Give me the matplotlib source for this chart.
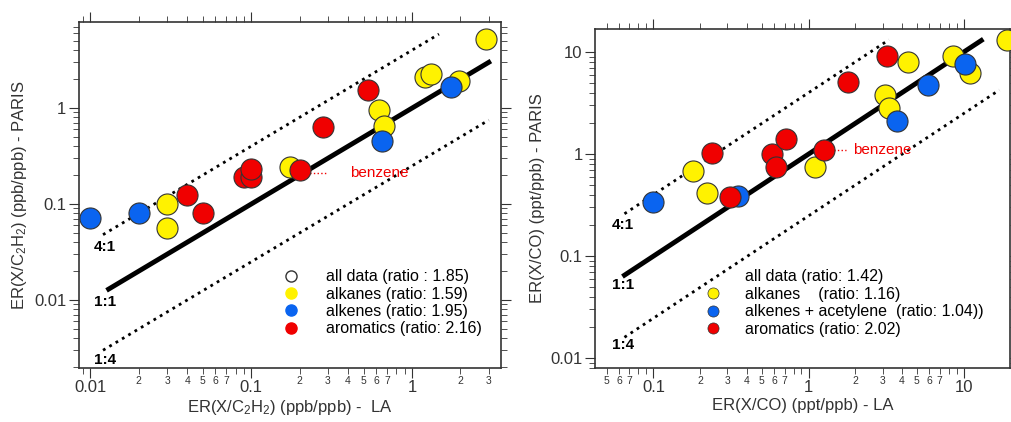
import numpy as np
import matplotlib.pyplot as plt
from matplotlib.ticker import LogLocator, FuncFormatter, NullFormatter
from matplotlib.lines import Line2D

plt.rcParams['font.family'] = ['Liberation Sans', 'DejaVu Sans']
plt.rcParams['mathtext.fontset'] = 'custom'
plt.rcParams['mathtext.rm'] = 'Liberation Sans'
plt.rcParams['mathtext.it'] = 'Liberation Sans'

# left panel: ER(X/C2H2)
la_c2h2_alk = [0.03, 0.03, 0.175, 0.62, 0.67, 1.2, 1.32, 1.95, 2.9]
pa_c2h2_alk = [0.1, 0.056, 0.245, 0.95, 0.65, 2.1, 2.25, 1.9, 5.2]
la_c2h2_ene = [0.01, 0.02, 0.65, 1.75]
pa_c2h2_ene = [0.072, 0.08, 0.45, 1.65]
la_c2h2_aro = [0.04, 0.05, 0.09, 0.1, 0.1, 0.2, 0.28, 0.53]
pa_c2h2_aro = [0.125, 0.08, 0.19, 0.19, 0.23, 0.225, 0.63, 1.55]

# right panel: ER(X/CO)
la_co_alk = [0.18, 0.22, 1.1, 3.1, 3.3, 4.4, 8.5, 11, 19]
pa_co_alk = [0.68, 0.42, 0.75, 3.8, 2.85, 8.0, 9.2, 6.2, 13]
la_co_ene = [0.1, 0.35, 3.7, 5.9, 10.2]
pa_co_ene = [0.34, 0.39, 2.1, 4.8, 7.7]
la_co_aro = [0.24, 0.31, 0.58, 0.62, 0.72, 1.25, 1.8, 3.2]
pa_co_aro = [1.02, 0.38, 1.0, 0.75, 1.42, 1.1, 5.1, 9.2]

YEL, BLU, RED = '#FFF200', '#0A64F0', '#F00000'

fig = plt.figure(figsize=(10.12, 4.22), dpi=100)
ax1 = fig.add_axes([0.078, 0.128, 0.417, 0.82])
ax2 = fig.add_axes([0.588, 0.128, 0.41, 0.803])


def minor_fmt(v, pos):
    m = v / 10 ** np.floor(np.log10(v) + 1e-9)
    return '%d' % round(m) if round(m) in (2, 3, 4, 5, 6, 7) else ''


def style(ax):
    ax.set_xscale('log')
    ax.set_yscale('log')
    ax.tick_params(which='both', direction='out', top=True, right=True,
                   labelsize=12, colors='#333333', pad=2)
    ax.tick_params(which='major', length=7)
    ax.tick_params(which='minor', length=4)
    ax.tick_params(axis='x', which='minor', labelsize=7.5)
    ax.xaxis.set_major_formatter(FuncFormatter(lambda v, p: '%g' % v))
    ax.yaxis.set_major_formatter(FuncFormatter(lambda v, p: '%g' % v))
    ax.xaxis.set_minor_locator(LogLocator(subs=np.arange(2, 10)))
    ax.xaxis.set_minor_formatter(FuncFormatter(minor_fmt))
    ax.yaxis.set_minor_formatter(NullFormatter())
    for s in ax.spines.values():
        s.set_linewidth(1.2)
        s.set_color('#333333')
    ax.xaxis.labelpad = 2


def points(ax, x, y, c):
    ax.scatter(x, y, s=230, c=c, edgecolors='#333333', linewidths=0.8, zorder=3)


# ----- left -----
style(ax1)
ax1.set_xlim(0.0085, 3.57)
ax1.set_ylim(0.00196, 7.9)
x = np.array([0.013, 3.0])
ax1.plot(x, x, 'k-', lw=3.5)
ax1.plot([0.012, 1.47], [0.048, 5.9], 'k:', lw=2)
ax1.plot([0.012, 3.0], [0.003, 0.75], 'k:', lw=2)
points(ax1, la_c2h2_alk, pa_c2h2_alk, YEL)
points(ax1, la_c2h2_ene, pa_c2h2_ene, BLU)
points(ax1, la_c2h2_aro, pa_c2h2_aro, RED)
for t, yy in [('4:1', 0.036), ('1:1', 0.0095), ('1:4', 0.0024)]:
    ax1.text(0.0105, yy, t, fontsize=11, fontweight='bold', va='center')
ax1.plot([0.22, 0.29], [0.21, 0.21], color=RED, ls=':', lw=1)
ax1.text(0.41, 0.21, 'benzene', color=RED, fontsize=11, va='center')
h = [Line2D([], [], ls='', marker='o', ms=8, mfc='white', mec='#333333'),
     Line2D([], [], ls='', marker='o', ms=8, mfc=YEL, mec=YEL),
     Line2D([], [], ls='', marker='o', ms=8, mfc=BLU, mec=BLU),
     Line2D([], [], ls='', marker='o', ms=8, mfc=RED, mec=RED)]
ax1.legend(h, ['all data (ratio : 1.85)', 'alkanes (ratio: 1.59)',
               'alkenes (ratio: 1.95)', 'aromatics (ratio: 2.16)'],
           loc='lower right', bbox_to_anchor=(0.99, 0.05), frameon=False,
           fontsize=11.5, handletextpad=1.2, labelspacing=0.15)
ax1.set_xlabel('ER(X/C$_2$H$_2$) (ppb/ppb) -  LA', fontsize=12, color='#333333')
ax1.set_ylabel('ER(X/C$_2$H$_2$) (ppb/ppb) - PARIS', fontsize=12, color='#333333')

# ----- right -----
style(ax2)
ax2.set_xlim(0.042, 19.9)
ax2.set_ylim(0.008, 16.8)
x = np.array([0.065, 13.0])
ax2.plot(x, x, 'k-', lw=3.5)
ax2.plot([0.065, 3.3], [0.26, 13.2], 'k:', lw=2)
ax2.plot([0.065, 17.0], [0.016, 4.25], 'k:', lw=2)
points(ax2, la_co_alk, pa_co_alk, YEL)
points(ax2, la_co_ene, pa_co_ene, BLU)
points(ax2, la_co_aro, pa_co_aro, RED)
for t, yy in [('4:1', 0.2), ('1:1', 0.052), ('1:4', 0.0135)]:
    ax2.text(0.054, yy, t, fontsize=11, fontweight='bold', va='center')
ax2.plot([1.38, 1.75], [1.1, 1.1], color=RED, ls=':', lw=1)
ax2.text(1.95, 1.1, 'benzene', color=RED, fontsize=11, va='center')
h = [Line2D([], [], ls='', marker=''),
     Line2D([], [], ls='', marker='o', ms=8, mfc=YEL, mec='#333333', mew=0.5),
     Line2D([], [], ls='', marker='o', ms=8, mfc=BLU, mec='#333333', mew=0.5),
     Line2D([], [], ls='', marker='o', ms=8, mfc=RED, mec='#333333', mew=0.5)]
ax2.legend(h, ['all data (ratio: 1.42)', 'alkanes    (ratio: 1.16)',
               'alkenes + acetylene  (ratio: 1.04))', 'aromatics (ratio: 2.02)'],
           loc='lower right', bbox_to_anchor=(0.97, 0.05), frameon=False,
           fontsize=11.5, handletextpad=1.0, labelspacing=0.15)
ax2.set_xlabel('ER(X/CO) (ppt/ppb) - LA', fontsize=12, color='#333333')
ax2.set_ylabel('ER(X/CO) (ppt/ppb) - PARIS', fontsize=12, color='#333333')

fig.savefig('out.png', dpi=100)
